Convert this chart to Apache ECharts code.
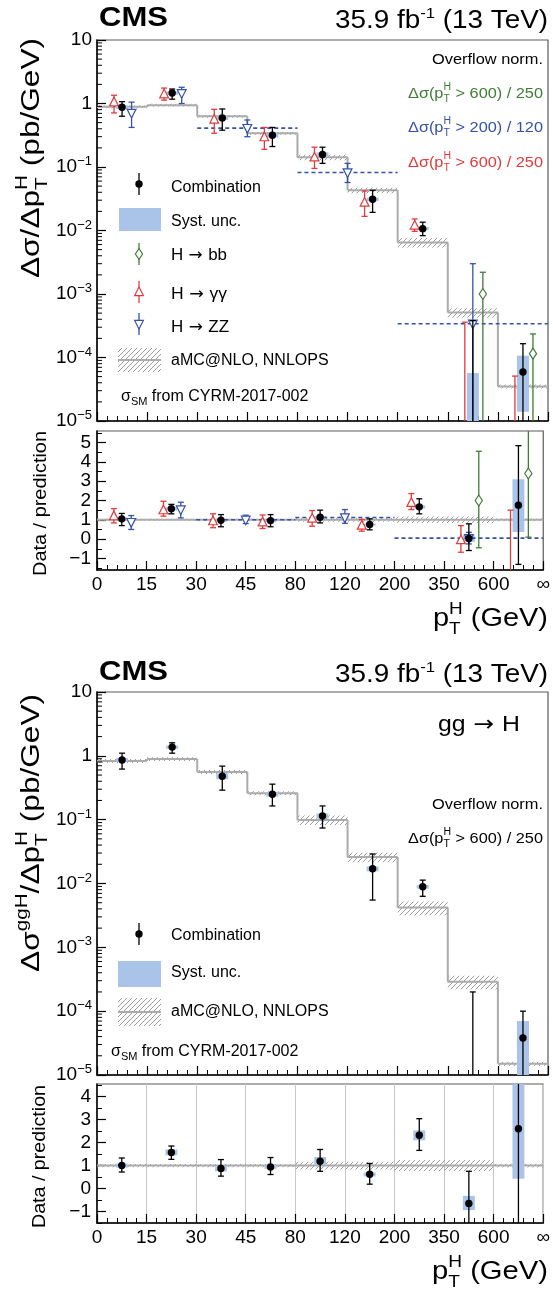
<!DOCTYPE html>
<html><head><meta charset="utf-8">
<script src="https://cdn.jsdelivr.net/npm/echarts@6/dist/echarts.min.js"></script>
<style>html,body{margin:0;padding:0;background:#fff}#c{width:553px;height:1296px}</style>
</head><body><div id="c"></div>
<script>
// ---------------- DATA ----------------
const binEdges = ['0','15','30','45','80','120','200','350','600','\u221e'];

// Upper figure: inclusive differential cross section (pb/GeV)
const predIncl    = [0.885, 0.94, 0.63, 0.34, 0.142, 0.043, 0.0065, 5.1e-4, 3.5e-5];
const predInclUnc = [0.05, 0.05, 0.05, 0.05, 0.10, 0.10, 0.17, 0.17, 0.07];
const combVal     = [0.875, 1.46, 0.59, 0.316, 0.158, 0.031, 0.0107, null, 5.9e-5];
const combHi      = [1.07, 1.69, 0.82, 0.42, 0.205, 0.043, 0.0135, 3.8e-4, 1.65e-4];
const combLo      = [0.63, 1.17, 0.38, 0.21, 0.114, 0.0193, 0.0083, 0, 0];
const combSystHi  = [0.93, 1.55, 0.63, 0.34, 0.17, 0.033, 0.0113, 5.7e-5, 1.07e-4];
const combSystLo  = [0.82, 1.37, 0.55, 0.29, 0.147, 0.029, 0.0101, 0, 1.4e-5];
const hggVal      = [1.05, 1.4, 0.56, 0.295, 0.142, 0.0276, 0.012, null, null];
const hggHi       = [1.35, 1.75, 0.81, 0.42, 0.205, 0.042, 0.0152, 3.6e-4, 5.1e-5];
const hggLo       = [0.71, 1.13, 0.34, 0.19, 0.095, 0.0167, 0.0097, 0, 0];
const hzzBinLo    = [0, 1, 2, 4, 6];
const hzzBinHi    = [1, 2, 4, 6, 9];
const hzzVal      = [0.71, 1.45, 0.41, 0.082, 3.4e-4];
const hzzHi       = [1.05, 1.8, 0.55, 0.114, 3.0e-3];
const hzzLo       = [0.42, 1.0, 0.3, 0.057, 0];
const hbbBins     = [7, 8];
const hbbVal      = [1.0e-3, 1.15e-4];
const hbbHi       = [2.2e-3, 2.35e-4];
const hbbLo       = [0, 0];

// Upper figure: ratio panel
const rCombVal    = [1.05, 1.57, 0.98, 0.96, 1.13, 0.76, 1.67, 0.03, 1.76];
const rCombHi     = [1.33, 1.8, 1.27, 1.27, 1.5, 1.05, 2.09, 0.79, 4.84];
const rCombLo     = [0.7, 1.31, 0.64, 0.64, 0.84, 0.48, 1.31, -0.59, -1.31];
const rCombSystHi = [1.12, 1.66, 1.04, 1.03, 1.2, 0.8, 1.75, 0.2, 3.1];
const rCombSystLo = [0.97, 1.48, 0.9, 0.88, 1.05, 0.7, 1.58, -0.15, 0.37];
const rHggVal     = [1.19, 1.5, 0.93, 0.87, 1.07, 0.7, 1.88, -0.05, null];
const rHggHi      = [1.58, 1.96, 1.31, 1.25, 1.48, 1.02, 2.36, 0.7, 1.5];
const rHggLo      = [0.84, 1.19, 0.59, 0.55, 0.67, 0.41, 1.53, -0.68, -5];
const rHzzVal     = [0.88, 1.53, 1.0, 1.12, 0.05];
const rHzzHi      = [1.22, 1.91, 1.24, 1.53, 0.35];
const rHzzLo      = [0.5, 1.1, 0.81, 0.82, -0.25];
const rHbbVal     = [2.0, 3.4];
const rHbbHi      = [4.55, 7.0];
const rHbbLo      = [-0.45, 0.1];

// Lower figure: gg -> H
const predGGH     = [0.83, 0.89, 0.56, 0.26, 0.099, 0.026, 0.0042, 2.9e-4, 1.5e-5];
const predGGHUnc  = [0.07, 0.07, 0.07, 0.07, 0.17, 0.17, 0.24, 0.24, 0.08];
const gghVal      = [0.86, 1.37, 0.48, 0.25, 0.114, 0.017, 0.0089, null, 3.8e-5];
const gghHi       = [1.1, 1.6, 0.69, 0.36, 0.164, 0.029, 0.0113, 2.0e-4, 1.0e-4];
const gghLo       = [0.62, 1.1, 0.29, 0.164, 0.074, 0.0055, 0.0063, 0, 0];
const gghSystHi   = [0.92, 1.45, 0.53, 0.27, 0.125, 0.0185, 0.0095, 0, 7e-5];
const gghSystLo   = [0.80, 1.29, 0.43, 0.23, 0.104, 0.0155, 0.0083, 0, 0];
const rGghVal     = [1.0, 1.57, 0.87, 0.94, 1.19, 0.62, 2.32, -0.65, 2.6];
const rGghHi      = [1.33, 1.85, 1.26, 1.35, 1.7, 1.09, 3.04, 0.75, 6];
const rGghLo      = [0.72, 1.27, 0.54, 0.61, 0.75, 0.19, 1.66, -2.5, -2.5];
const rGghSystHi  = [1.08, 1.7, 0.97, 1.02, 1.37, 0.7, 2.53, -0.32, 6];
const rGghSystLo  = [0.92, 1.45, 0.75, 0.86, 1.02, 0.53, 2.1, -0.94, 0.43];

// ---------------- STYLE ----------------
const FF = '"Liberation Sans", Arial, Helvetica, sans-serif';
const FA = '"DejaVu Sans", sans-serif';
const RED = '#e23b3b', BLUE = '#3552a8', GREEN = '#3f7d35', SYS = '#a9c4e8', GREY = '#ababab';
const OFF_GG = -0.16, OFF_ZZ = 0.19, OFF_BB = 0.2, BOXW = 0.12;

function hatchCanvas() {
  const c = document.createElement('canvas'); c.width = 5; c.height = 5;
  const g = c.getContext('2d'); g.strokeStyle = '#9c9c9c'; g.lineWidth = 1;
  g.beginPath(); g.moveTo(-1, 6); g.lineTo(6, -1); g.moveTo(-1, 1); g.lineTo(1, -1); g.moveTo(4, 6); g.lineTo(6, 4); g.stroke();
  return c;
}
const hatch = { image: hatchCanvas(), repeat: 'repeat' };

const mctx = document.createElement('canvas').getContext('2d');
function fontStr(s, b, f) { return (b ? 'bold ' : '') + s + 'px ' + (f || FF); }
function tw(t, s, b, f) { mctx.font = fontStr(s, b, f); return mctx.measureText(t).width; }
function natW(segs) {
  let cx = 0, st = 0;
  segs.forEach(sg => { const w = tw(sg.t, sg.s, sg.b, sg.f); if (sg.stack) st = Math.max(st, w); else { cx += Math.max(w, st); st = 0; } });
  return cx;
}
function mtext(segs, o) {
  let cx = 0, st = 0; const kids = [];
  segs.forEach(sg => {
    const w = tw(sg.t, sg.s, sg.b, sg.f);
    kids.push({ type: 'text', x: cx, y: (sg.dy || 0) - 0.35 * sg.s, silent: true,
      style: { text: sg.t, font: fontStr(sg.s, sg.b, sg.f), fontSize: sg.s, fontFamily: sg.f || FF, fontWeight: sg.b ? 'bold' : 'normal',
        fill: sg.c || o.color || '#000', align: 'left', verticalAlign: 'middle', textAlign: 'left', textVerticalAlign: 'middle' } });
    if (sg.stack) st = Math.max(st, w); else { cx += Math.max(w, st); st = 0; }
  });
  const W = cx;
  const sc = o.width ? o.width / W : (o.scale || 1);
  if (o.align === 'right') kids.forEach(k => { k.x -= W; });
  return { type: 'group', x: o.x, y: o.y, rotation: o.rotation || 0, scaleX: sc, silent: true, children: kids };
}
const arrow = (s) => ({ t: ' \u2192 ', s: s, f: FA });

function markerShape(mk, x, y, c) {
  if (mk === 'dot') return { type: 'circle', shape: { cx: x, cy: y, r: 3.7 }, style: { fill: '#000' } };
  let pts;
  if (mk === 'up') pts = [[x, y - 5], [x + 4.4, y + 3.6], [x - 4.4, y + 3.6]];
  else if (mk === 'down') pts = [[x, y + 5], [x + 4.4, y - 3.6], [x - 4.4, y - 3.6]];
  else pts = [[x, y - 5.5], [x + 3.6, y], [x, y + 5.5], [x - 3.6, y]];
  return { type: 'polygon', shape: { points: pts }, style: { fill: '#fff', stroke: c, lineWidth: 1.2 } };
}

function errSeries(xi, yi, data, mk, color, isLog) {
  return { type: 'custom', xAxisIndex: xi, yAxisIndex: yi, clip: true, silent: true, z: 5, encode: { x: 0, y: 1 }, data,
    renderItem(params, api) {
      const cs = params.coordSys, top = cs.y, bot = cs.y + cs.height;
      const f = v => isLog ? (v > 0 ? v : 1e-12) : v;
      const x = api.value(0), hi = api.value(1), lo = api.value(2), val = api.value(3);
      const px = api.coord([x, f(hi)])[0];
      let yh = api.coord([x, f(hi)])[1], yl = api.coord([x, f(lo)])[1];
      const capH = yh >= top, capL = yl <= bot;
      yh = Math.max(top, Math.min(bot, yh)); yl = Math.max(top, Math.min(bot, yl));
      const kids = [{ type: 'line', shape: { x1: px, y1: yh, x2: px, y2: yl }, style: { stroke: color, lineWidth: 1.3 } }];
      if (capH) kids.push({ type: 'line', shape: { x1: px - 3, y1: yh, x2: px + 3, y2: yh }, style: { stroke: color, lineWidth: 1.3 } });
      if (capL) kids.push({ type: 'line', shape: { x1: px - 3, y1: yl, x2: px + 3, y2: yl }, style: { stroke: color, lineWidth: 1.3 } });
      if (!isNaN(val) && val !== null && (!isLog || val > 0)) {
        const py = api.coord([x, f(val)])[1];
        if (py >= top && py <= bot) kids.push(markerShape(mk, px, py, color));
      }
      return { type: 'group', children: kids };
    } };
}

function systSeries(xi, yi, data, isLog) {
  return { type: 'custom', xAxisIndex: xi, yAxisIndex: yi, clip: true, silent: true, z: 3, encode: { x: 0, y: 1 }, data,
    renderItem(params, api) {
      const cs = params.coordSys, top = cs.y, bot = cs.y + cs.height;
      const f = v => isLog ? (v > 0 ? v : 1e-12) : v;
      const x = api.value(0), hi = api.value(1), lo = api.value(2);
      const a = api.coord([x - BOXW, f(hi)]), b = api.coord([x + BOXW, f(lo)]);
      const y1 = Math.max(top, Math.min(bot, a[1])), y2 = Math.max(top, Math.min(bot, b[1]));
      return { type: 'rect', shape: { x: a[0], y: y1, width: b[0] - a[0], height: y2 - y1 }, style: { fill: SYS } };
    } };
}

function bandSeries(xi, yi, pred, unc) {
  return { type: 'custom', xAxisIndex: xi, yAxisIndex: yi, clip: true, silent: true, z: 2, encode: { x: 0, y: 1 },
    data: pred.map((p, i) => [i, p, unc[i]]),
    renderItem(params, api) {
      const i = api.value(0), p = api.value(1), u = api.value(2);
      const a = api.coord([i, p]), b = api.coord([i + 1, p]);
      const hi = api.coord([i, p * (1 + u)])[1], lo = api.coord([i, p * (1 - u)])[1];
      const kids = [
        { type: 'rect', shape: { x: a[0], y: hi, width: b[0] - a[0], height: lo - hi }, style: { fill: hatch } },
        { type: 'line', shape: { x1: a[0], y1: a[1], x2: b[0], y2: a[1] }, style: { stroke: GREY, lineWidth: 2 } }];
      if (i > 0) { const py = api.coord([i, pred[i - 1]])[1]; kids.push({ type: 'line', shape: { x1: a[0], y1: py, x2: a[0], y2: a[1] }, style: { stroke: GREY, lineWidth: 2 } }); }
      return { type: 'group', children: kids };
    } };
}

function dashSeries(xi, yi, data) {
  return { type: 'custom', xAxisIndex: xi, yAxisIndex: yi, clip: true, silent: true, z: 4, encode: { x: 0, y: 1 }, data,
    renderItem(params, api) {
      const a = api.coord([api.value(0), api.value(1)]), b = api.coord([api.value(2), api.value(1)]);
      return { type: 'line', shape: { x1: a[0], y1: a[1], x2: b[0], y2: a[1] }, style: { stroke: BLUE, lineWidth: 1.6, lineDash: [4, 3] } };
    } };
}

const logMinor = [];
for (let k = -5; k < 1; k++) for (let m = 2; m < 10; m++) logMinor.push(m * Math.pow(10, k));
function logTickSeries(xi, yi) {
  return { type: 'custom', xAxisIndex: xi, yAxisIndex: yi, silent: true, z: 6, encode: { x: 0, y: 1 },
    data: logMinor.map(v => [0, v]),
    renderItem(params, api) {
      const cs = params.coordSys; const y = api.coord([0, api.value(1)])[1];
      return { type: 'line', shape: { x1: cs.x, y1: y, x2: cs.x + 5, y2: y }, style: { stroke: '#000', lineWidth: 1 } };
    } };
}

// ---------------- DERIVED SERIES DATA ----------------
const mid = i => i + 0.5;
const zzX = hzzBinLo.map((s, i) => (s + hzzBinHi[i]) / 2 + (hzzBinHi[i] - s === 1 ? OFF_ZZ : 0));
const wideZZ = hzzBinLo.map((s, i) => i).filter(i => hzzBinHi[i] - hzzBinLo[i] > 1);
const ones = predIncl.map(() => 1);

const series = [
  // upper main
  bandSeries(0, 0, predIncl, predInclUnc),
  systSeries(0, 0, combSystHi.map((h, i) => [mid(i), h, combSystLo[i]]), true),
  dashSeries(0, 0, wideZZ.map(i => [hzzBinLo[i], hzzVal[i], hzzBinHi[i]])),
  errSeries(0, 0, hggHi.map((h, i) => [mid(i) + OFF_GG, h, hggLo[i], hggVal[i]]), 'up', RED, true),
  errSeries(0, 0, hzzHi.map((h, i) => [zzX[i], h, hzzLo[i], hzzVal[i]]), 'down', BLUE, true),
  errSeries(0, 0, hbbHi.map((h, i) => [mid(hbbBins[i]) + OFF_BB, h, hbbLo[i], hbbVal[i]]), 'dia', GREEN, true),
  errSeries(0, 0, combHi.map((h, i) => [mid(i), h, combLo[i], combVal[i]]), 'dot', '#000', true),
  logTickSeries(0, 0),
  // upper ratio
  bandSeries(1, 1, ones, predInclUnc),
  systSeries(1, 1, rCombSystHi.map((h, i) => [mid(i), h, rCombSystLo[i]]), false),
  dashSeries(1, 1, wideZZ.map(i => [hzzBinLo[i], rHzzVal[i], hzzBinHi[i]])),
  errSeries(1, 1, rHggHi.map((h, i) => [mid(i) + OFF_GG, h, rHggLo[i], rHggVal[i]]), 'up', RED, false),
  errSeries(1, 1, rHzzHi.map((h, i) => [zzX[i], h, rHzzLo[i], rHzzVal[i]]), 'down', BLUE, false),
  errSeries(1, 1, rHbbHi.map((h, i) => [mid(hbbBins[i]) + OFF_BB, h, rHbbLo[i], rHbbVal[i]]), 'dia', GREEN, false),
  errSeries(1, 1, rCombHi.map((h, i) => [mid(i), h, rCombLo[i], rCombVal[i]]), 'dot', '#000', false),
  // lower main
  bandSeries(2, 3, predGGH, predGGHUnc),
  systSeries(2, 3, gghSystHi.map((h, i) => [mid(i), h, gghSystLo[i]]), true),
  errSeries(2, 3, gghHi.map((h, i) => [mid(i), h, gghLo[i], gghVal[i]]), 'dot', '#000', true),
  logTickSeries(2, 3),
  // lower ratio
  bandSeries(3, 4, ones, predGGHUnc),
  systSeries(3, 4, rGghSystHi.map((h, i) => [mid(i), h, rGghSystLo[i]]), false),
  errSeries(3, 4, rGghHi.map((h, i) => [mid(i), h, rGghLo[i], rGghVal[i]]), 'dot', '#000', false)
];

// ---------------- AXES ----------------
const GR = [
  { left: 97, top: 40, width: 451, height: 381 },
  { left: 97, top: 431, width: 451, height: 139 },
  { left: 97, top: 692, width: 451, height: 383 },
  { left: 97, top: 1084, width: 451, height: 139 }
];
const xAxes = GR.map((g, i) => ({
  type: 'value', gridIndex: i, min: 0, max: 9, interval: 1,
  axisLine: { show: true, onZero: false, lineStyle: { color: '#000', width: 1.5 } },
  axisTick: { show: true, inside: true, length: 9, lineStyle: { color: '#000', width: 1.2 } },
  minorTick: { show: true, splitNumber: 5, length: 5, lineStyle: { color: '#000', width: 1 } },
  splitLine: { show: i === 3, lineStyle: { color: '#c9c9c9', width: 1 } },
  axisLabel: { show: i % 2 === 1, formatter: v => binEdges[Math.round(v)], fontSize: 19, fontFamily: FF, color: '#000', margin: 5,
    showMinLabel: true, showMaxLabel: true }
}));
function logY(gi) {
  return { type: 'log', gridIndex: gi, logBase: 10, min: 1e-5, max: 10,
    axisLine: { show: true, onZero: false, lineStyle: { color: '#000', width: 1.5 } },
    axisTick: { show: true, inside: true, length: 9, lineStyle: { color: '#000', width: 1.2 } },
    splitLine: { show: false }, minorTick: { show: false },
    axisLabel: { margin: 5, color: '#000',
      formatter: v => { const e = Math.round(Math.log10(v)); if (e === 1) return '{n|10}'; if (e === 0) return '{n|1}'; return '{n|10}{s|\u2212' + (-e) + '}'; },
      rich: { n: { fontSize: 19, fontFamily: FF, color: '#000', lineHeight: 24 }, s: { fontSize: 13, fontFamily: FF, color: '#000', lineHeight: 12, verticalAlign: 'top' } } } };
}
function ratioY(gi, min, max, majors, minors) {
  return [
    { type: 'value', gridIndex: gi, min, max, position: 'left',
      axisLine: { show: true, onZero: false, lineStyle: { color: '#000', width: 1.5 } },
      splitLine: { show: false },
      axisTick: { show: true, inside: true, length: 9, customValues: majors, lineStyle: { color: '#000', width: 1.2 } },
      axisLabel: { customValues: majors, formatter: v => v < 0 ? '\u2212' + Math.abs(v) : String(v), fontSize: 19, fontFamily: FF, color: '#000', margin: 6 } },
    { type: 'value', gridIndex: gi, min, max, position: 'left', offset: 0,
      axisLine: { show: false, onZero: false }, splitLine: { show: false }, axisLabel: { show: false },
      axisTick: { show: true, inside: true, length: 5, customValues: minors, lineStyle: { color: '#000', width: 1 } } }
  ];
}
const yAxes = [logY(0), ...ratioY(1, -1.6, 5.6, [-1, 0, 1, 2, 3, 4, 5], [-1.5, -0.5, 0.5, 1.5, 2.5, 3.5, 4.5, 5.5]),
  logY(2), ...ratioY(3, -1.5, 4.55, [-1, 0, 1, 2, 3, 4], [-1.5, -0.5, 0.5, 1.5, 2.5, 3.5, 4.5])];

// ---------------- TEXT / LEGEND GRAPHICS ----------------
const G = [];
const pTH = (s, ss) => [{ t: 'p', s }, { t: 'H', s: ss, dy: -0.5 * s, stack: true }, { t: 'T', s: ss, dy: 0.27 * s }];
const dsLabel = (s, ss, tail, c) => [{ t: '\u0394\u03c3(p', s, c }, { t: 'H', s: ss, dy: -0.52 * s, stack: true, c }, { t: 'T', s: ss, dy: 0.27 * s, c }, { t: tail, s, c }];

// headers
[28, 682].forEach(bl => {
  G.push(mtext([{ t: 'CMS', s: 28, b: true }], { x: 99, y: bl, width: 69 }));
  G.push(mtext([{ t: '35.9 fb', s: 25 }, { t: '-1', s: 15, dy: -11 }, { t: ' (13 TeV)', s: 25 }], { x: 548, y: bl + 2, width: 213, align: 'right' }));
});
// y titles
const yTitleTop = [{ t: '\u0394\u03c3/\u0394', s: 26 }, ...pTH(26, 17), { t: ' (pb/GeV)', s: 26 }];
const ySc = 240 / natW(yTitleTop);
G.push(mtext(yTitleTop, { x: 41, y: 38, align: 'right', rotation: Math.PI / 2, width: 240 }));
G.push(mtext([{ t: '\u0394\u03c3', s: 26 }, { t: 'ggH', s: 17, dy: -13 }, { t: '/\u0394', s: 26 }, ...pTH(26, 17), { t: ' (pb/GeV)', s: 26 }],
  { x: 41, y: 694, align: 'right', rotation: Math.PI / 2, scale: ySc }));
G.push(mtext([{ t: 'Data / prediction', s: 19 }], { x: 47, y: 431, align: 'right', rotation: Math.PI / 2, width: 145 }));
G.push(mtext([{ t: 'Data / prediction', s: 19 }], { x: 46, y: 1085, align: 'right', rotation: Math.PI / 2, width: 143 }));
// x titles
G.push(mtext([...pTH(26, 17), { t: ' (GeV)', s: 26 }], { x: 548, y: 628, align: 'right', width: 115 }));
G.push(mtext([...pTH(26, 17), { t: ' (GeV)', s: 26 }], { x: 548, y: 1281, align: 'right', width: 116 }));
// annotations upper
G.push(mtext([{ t: 'Overflow norm.', s: 15.5 }], { x: 543, y: 65, align: 'right', width: 111 }));
G.push(mtext(dsLabel(15.5, 10, ' > 600) / 250', GREEN), { x: 543, y: 99, align: 'right', width: 135 }));
G.push(mtext(dsLabel(15.5, 10, ' > 200) / 120', BLUE), { x: 543, y: 133, align: 'right', width: 135 }));
G.push(mtext(dsLabel(15.5, 10, ' > 600) / 250', RED), { x: 543, y: 168, align: 'right', width: 135 }));
// annotations lower
G.push(mtext([{ t: 'gg', s: 22 }, arrow(22), { t: 'H', s: 22 }], { x: 520, y: 733, align: 'right', width: 82 }));
G.push(mtext([{ t: 'Overflow norm.', s: 15.5 }], { x: 543, y: 810, align: 'right', width: 111 }));
G.push(mtext(dsLabel(15.5, 10, ' > 600) / 250', '#000'), { x: 543, y: 844, align: 'right', width: 135 }));

// legends
function legErr(x, y, mk, c) {
  G.push({ type: 'line', silent: true, shape: { x1: x, y1: y - 11, x2: x, y2: y + 11 }, style: { stroke: c, lineWidth: 1.3 } });
  G.push(Object.assign(markerShape(mk, x, y, c), { silent: true }));
}
function legHatch(y0, y1) {
  G.push({ type: 'rect', silent: true, shape: { x: 118, y: y0, width: 43, height: y1 - y0 }, style: { fill: hatch } });
  G.push({ type: 'line', silent: true, shape: { x1: 118, y1: (y0 + y1) / 2, x2: 161, y2: (y0 + y1) / 2 }, style: { stroke: GREY, lineWidth: 2 } });
}
const sigSM = [{ t: '\u03c3', s: 16 }, { t: 'SM', s: 11, dy: 4 }, { t: ' from CYRM-2017-002', s: 16 }];
// upper legend
legErr(139, 184, 'dot', '#000');
G.push(mtext([{ t: 'Combination', s: 16 }], { x: 171, y: 193 }));
G.push({ type: 'rect', silent: true, shape: { x: 119, y: 208, width: 42, height: 23 }, style: { fill: SYS } });
G.push(mtext([{ t: 'Syst. unc.', s: 16 }], { x: 171, y: 227 }));
legErr(139, 254, 'dia', GREEN);
G.push(mtext([{ t: 'H', s: 16 }, arrow(16), { t: 'bb', s: 16 }], { x: 171, y: 261, width: 56 }));
legErr(139, 292, 'up', RED);
G.push(mtext([{ t: 'H', s: 16 }, arrow(16), { t: '\u03b3\u03b3', s: 16 }], { x: 171, y: 300, width: 56 }));
legErr(139, 324, 'down', BLUE);
G.push(mtext([{ t: 'H', s: 16 }, arrow(16), { t: 'ZZ', s: 16 }], { x: 171, y: 333, width: 58 }));
legHatch(348, 372);
G.push(mtext([{ t: 'aMC@NLO, NNLOPS', s: 16 }], { x: 171, y: 366 }));
G.push(mtext(sigSM, { x: 121, y: 402 }));
// lower legend
legErr(139, 934, 'dot', '#000');
G.push(mtext([{ t: 'Combination', s: 16 }], { x: 171, y: 941 }));
G.push({ type: 'rect', silent: true, shape: { x: 118, y: 961, width: 43, height: 26 }, style: { fill: SYS } });
G.push(mtext([{ t: 'Syst. unc.', s: 16 }], { x: 171, y: 978 }));
legHatch(998, 1026);
G.push(mtext([{ t: 'aMC@NLO, NNLOPS', s: 16 }], { x: 171, y: 1017 }));
G.push(mtext(sigSM, { x: 111, y: 1057 }));

// ---------------- CHART ----------------
const chart = echarts.init(document.getElementById('c'), null, { renderer: 'canvas' });
chart.setOption({
  animation: false,
  backgroundColor: '#fff',
  grid: GR.map(g => Object.assign({ show: true, borderColor: '#5a5a5a', borderWidth: 1.2, backgroundColor: 'transparent' }, g)),
  xAxis: xAxes,
  yAxis: yAxes,
  series,
  graphic: { elements: G }
});
</script>
</body></html>
